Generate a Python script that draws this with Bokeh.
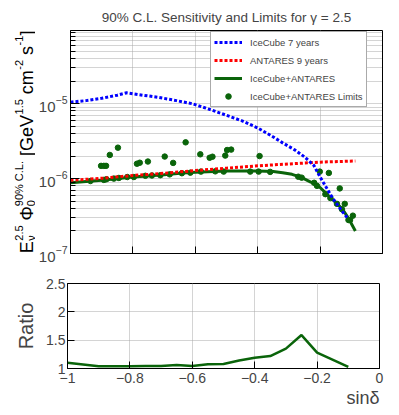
import math
from bokeh.plotting import figure
from bokeh.layouts import column, row
from bokeh.models import FixedTicker, Legend, LegendItem, Range1d, Title, ColumnDataSource
from bokeh.core.properties import value
from bokeh.embed import file_html
from bokeh.resources import INLINE

FONT = "Liberation Sans"
GREEN = "#0a640a"

# ---------------- data ----------------
ic_sind = [-1.0, -0.95, -0.9, -0.85, -0.82, -0.78, -0.72, -0.66, -0.61, -0.55, -0.5,
           -0.45, -0.4, -0.35, -0.32, -0.28, -0.25, -0.22, -0.2, -0.16, -0.13, -0.11]
ic_flux = [10.5e-6, 11.0e-6, 11.8e-6, 13.0e-6, 14.0e-6, 13.2e-6, 12.2e-6, 11.0e-6, 10.0e-6,
           8.3e-6, 7.0e-6, 5.9e-6, 4.75e-6, 3.6e-6, 3.0e-6, 2.4e-6, 1.95e-6, 1.5e-6, 1.05e-6,
           0.55e-6, 0.37e-6, 0.29e-6]

ant_sind = [-1.0, -0.9, -0.8, -0.7, -0.6, -0.5, -0.4, -0.3, -0.2, -0.087]
ant_flux = [0.95e-6, 1.01e-6, 1.1e-6, 1.18e-6, 1.28e-6, 1.38e-6, 1.48e-6, 1.57e-6, 1.66e-6, 1.72e-6]

comb_sind = [-1.0, -0.9, -0.8, -0.7, -0.64, -0.6, -0.5, -0.4, -0.35, -0.32, -0.29, -0.26,
             -0.23, -0.2, -0.18, -0.15, -0.13, -0.11, -0.087]
comb_flux = [0.88e-6, 0.95e-6, 1.05e-6, 1.13e-6, 1.19e-6, 1.22e-6, 1.26e-6, 1.26e-6, 1.24e-6,
             1.2e-6, 1.14e-6, 1.04e-6, 0.9e-6, 0.76e-6, 0.63e-6, 0.48e-6, 0.40e-6, 0.30e-6, 0.20e-6]

lim_sind = [-0.936, -0.893, -0.885, -0.861, -0.845, -0.818, -0.797, -0.76, -0.739, -0.712,
            -0.682, -0.643, -0.616, -0.582, -0.536, -0.509, -0.424, -0.397, -0.36, -0.27,
            -0.259, -0.219, -0.21, -0.183, -0.167, -0.146, -0.13, -0.109,
            -0.902, -0.893, -0.886, -0.874, -0.848, -0.787, -0.778, -0.752, -0.698, -0.671,
            -0.631, -0.584, -0.554, -0.545, -0.504, -0.498, -0.485, -0.394, -0.201, -0.172,
            -0.137, -0.121, -0.095, -0.104]
lim_flux = [0.93e-6, 0.96e-6, 0.98e-6, 1.0e-6, 1.02e-6, 1.05e-6, 1.05e-6, 1.09e-6, 1.1e-6, 1.11e-6,
            1.14e-6, 1.18e-6, 1.2e-6, 1.24e-6, 1.25e-6, 1.24e-6, 1.24e-6, 1.24e-6, 1.23e-6, 1.06e-6,
            1.03e-6, 0.88e-6, 0.8e-6, 0.62e-6, 0.55e-6, 0.46e-6, 0.39e-6, 0.28e-6,
            1.48e-6, 1.48e-6, 1.48e-6, 2.07e-6, 2.59e-6, 1.58e-6, 1.63e-6, 1.69e-6, 1.97e-6, 1.62e-6,
            3.05e-6, 2.11e-6, 1.9e-6, 1.96e-6, 2.03e-6, 2.41e-6, 2.44e-6, 2.0e-6, 1.24e-6, 1.19e-6,
            0.74e-6, 0.46e-6, 0.32e-6, 0.28e-6]

ratio_sind = [-1.0, -0.9, -0.8, -0.75, -0.7, -0.65, -0.6, -0.55, -0.5, -0.45, -0.4, -0.35,
              -0.3, -0.25, -0.2, -0.1]
ratio_val = [1.10, 1.04, 1.04, 1.045, 1.045, 1.06, 1.045, 1.075, 1.08, 1.14, 1.19, 1.22,
             1.35, 1.59, 1.28, 1.03]

x_ticks = [-1.0, -0.8, -0.6, -0.4, -0.2, 0.0]
x_tick_labels = ["\u22121", "\u22120.8", "\u22120.6", "\u22120.4", "\u22120.2", "0"]
y_major = [1e-7, 1e-6, 1e-5]
y_minor = [m * d for d in (1e-7, 1e-6, 1e-5) for m in range(2, 10)]
r_ticks = [1.0, 1.5, 2.0, 2.5]
r_tick_labels = ["1", "1.5", "2", "2.5"]

title_text = "90% C.L. Sensitivity and Limits for \u03b3 = 2.5"
legend_labels = ["IceCube 7 years", "ANTARES 9 years", "IceCube+ANTARES", "IceCube+ANTARES Limits"]
# y-axis title pieces: text, role (main / sub / sup)
ytitle_parts = [("E", "main"), ("\u03bd", "sub"), ("2.5", "sup"), ("\u03a6", "main"),
                ("0", "sub"), ("90% C.L.", "sup"), ("[GeV", "main"), ("1.5", "sup"),
                ("cm", "main"), ("-2", "sup"), ("s", "main"), ("-1", "sup"), ("]", "main")]
x_title = "sin\u03b4"
r_title = "Ratio"

# ---------------- layout constants ----------------
LAB_W = 35          # width of the strip holding the rotated y title
FRAME_H = 223

# ---------------- top panel ----------------
p = figure(frame_width=312, frame_height=FRAME_H, y_axis_type="log",
           x_range=Range1d(-1, 0), y_range=Range1d(1e-7, 9.5e-5),
           output_backend="svg", toolbar_location=None,
           min_border_left=67 - LAB_W, min_border_right=20, min_border_top=30, min_border_bottom=20)
p.title.text = title_text
p.title.align = "center"
p.title.text_font = FONT
p.title.text_font_size = "13.5px"
p.title.text_font_style = "normal"
p.title.standoff = 11
p.outline_line_color = "black"
p.outline_line_alpha = 1
p.outline_line_width = 1

p.xaxis.ticker = FixedTicker(ticks=x_ticks, minor_ticks=[])
p.xaxis.major_label_overrides = {t: "" for t in x_ticks}
p.xaxis.major_tick_in = 7
p.xaxis.major_tick_out = 0
p.xaxis.minor_tick_out = 0
p.yaxis.ticker = FixedTicker(ticks=y_major, minor_ticks=y_minor)
p.yaxis.major_tick_in = 9
p.yaxis.major_tick_out = 0
p.yaxis.minor_tick_in = 5
p.yaxis.minor_tick_out = 0
p.yaxis.major_label_text_font = FONT
p.yaxis.major_label_text_font_size = "15px"
p.yaxis.major_label_standoff = 3
for ax in (p.xaxis, p.yaxis):
    ax.axis_line_color = "black"
    ax.major_tick_line_color = "black"
    ax.minor_tick_line_color = "black"

for g in (p.xgrid, p.ygrid):
    g.grid_line_color = "#a8a8a8"
    g.grid_line_dash = "1 1"
p.ygrid.minor_grid_line_color = "#a8a8a8"
p.ygrid.minor_grid_line_dash = "1 1"

r_comb = p.line(comb_sind, comb_flux, line_color=GREEN, line_width=3)
r_lim = p.scatter(lim_sind, lim_flux, size=5.5, color=GREEN)
r_ant = p.line(ant_sind, ant_flux, line_color="#ff0000", line_width=3, line_dash="3 2")
r_ic = p.line(ic_sind, ic_flux, line_color="#0000ff", line_width=3, line_dash="3 2")

legend = Legend(items=[LegendItem(label=legend_labels[0], renderers=[r_ic]),
                       LegendItem(label=legend_labels[1], renderers=[r_ant]),
                       LegendItem(label=legend_labels[2], renderers=[r_comb]),
                       LegendItem(label=legend_labels[3], renderers=[r_lim])],
                location=(140, 146), padding=3, spacing=4, glyph_width=28, glyph_height=14,
                label_height=14, label_standoff=8, label_width=107,
                label_text_font=FONT, label_text_font_size="9.5px",
                border_line_color="#555555", border_line_width=1,
                background_fill_color="white", background_fill_alpha=1)
p.add_layout(legend)

# ---------------- strip with the rotated y title (frame aligned with the top panel) ----------------
lab = figure(frame_width=LAB_W, frame_height=FRAME_H, x_range=Range1d(0, LAB_W),
             y_range=Range1d(0, FRAME_H), output_backend="svg", toolbar_location=None,
             min_border_left=0, min_border_right=0, min_border_top=30, min_border_bottom=20,
             x_axis_location=None, y_axis_location=None)
lab.title = None
lab.outline_line_color = None
lab.grid.visible = False

MAIN_FS, SCR_FS = 18, 11
BASE = 26
xpos = {"main": BASE, "sup": BASE - 8, "sub": BASE + 4}
adv_em = {"E": 0.667, "\u03a6": 0.76, "[GeV": 2.279, "cm": 1.333, "s": 0.5, "]": 0.278,
          "\u03bd": 0.5, "2.5": 1.39, "0": 0.556, "90% C.L.": 4.113, "1.5": 1.39,
          "-2": 0.889, "-1": 0.889}
space = 0.278 * MAIN_FS
ys, xs, texts, sizes = [], [], [], []
cur = 0.3
i = 0
while i < len(ytitle_parts):
    txt, role = ytitle_parts[i]
    if role == "main":
        if txt in ("\u03a6", "[GeV", "cm", "s"):
            cur += space
        ys.append(cur); xs.append(xpos[role]); texts.append(txt); sizes.append(f"{MAIN_FS}px")
        cur += adv_em[txt] * MAIN_FS
        i += 1
    else:
        grp = []
        while i < len(ytitle_parts) and ytitle_parts[i][1] != "main":
            grp.append(ytitle_parts[i]); i += 1
        w = 0
        for t, rl in grp:
            ys.append(cur + 0.5); xs.append(xpos[rl]); texts.append(t); sizes.append(f"{SCR_FS}px")
            w = max(w, adv_em[t] * SCR_FS)
        cur += w + 0.5
src = ColumnDataSource(dict(x=xs, y=ys, text=texts, size=sizes))
lab.text(x="x", y="y", text="text", source=src, angle=math.pi / 2, text_align="left",
         text_baseline="alphabetic", text_font=value(FONT), text_font_size="size",
         text_color="black")

# ---------------- ratio panel ----------------
r = figure(frame_width=312, frame_height=85,
           x_range=Range1d(-1, 0), y_range=Range1d(1, 2.5),
           output_backend="svg", toolbar_location=None,
           min_border_left=67, min_border_right=20, min_border_top=10, min_border_bottom=10)
r.outline_line_color = "black"
r.outline_line_alpha = 1
r.xaxis.ticker = FixedTicker(ticks=x_ticks, minor_ticks=[])
r.xaxis.major_label_overrides = dict(zip(x_ticks, x_tick_labels))
r.xaxis.major_label_text_font = FONT
r.xaxis.major_label_text_font_size = "14px"
r.xaxis.major_label_standoff = 4
r.xaxis.major_tick_in = 7
r.xaxis.major_tick_out = 0
r.yaxis.ticker = FixedTicker(ticks=r_ticks, minor_ticks=[])
r.yaxis.major_label_overrides = dict(zip(r_ticks, r_tick_labels))
r.yaxis.major_label_text_font = FONT
r.yaxis.major_label_text_font_size = "14px"
r.yaxis.major_label_standoff = 2
r.yaxis.major_tick_in = 7
r.yaxis.major_tick_out = 0
r.yaxis.axis_label = r_title
r.yaxis.axis_label_text_font = FONT
r.yaxis.axis_label_text_font_size = "20px"
r.yaxis.axis_label_text_font_style = "normal"
r.yaxis.axis_label_standoff = 6
for ax in (r.xaxis, r.yaxis):
    ax.axis_line_color = "black"
    ax.major_tick_line_color = "black"
for g in (r.xgrid, r.ygrid):
    g.grid_line_color = "#a8a8a8"
    g.grid_line_dash = "1 1"

r.line(ratio_sind, ratio_val, line_color=GREEN, line_width=2.5)
r.add_layout(Title(text=x_title, align="right", text_font=FONT, text_font_size="18px",
                   text_font_style="normal", standoff=0), "below")

layout = column(row(lab, p, spacing=0), r, spacing=0)
open("out.html", "w").write(file_html(layout, INLINE))
